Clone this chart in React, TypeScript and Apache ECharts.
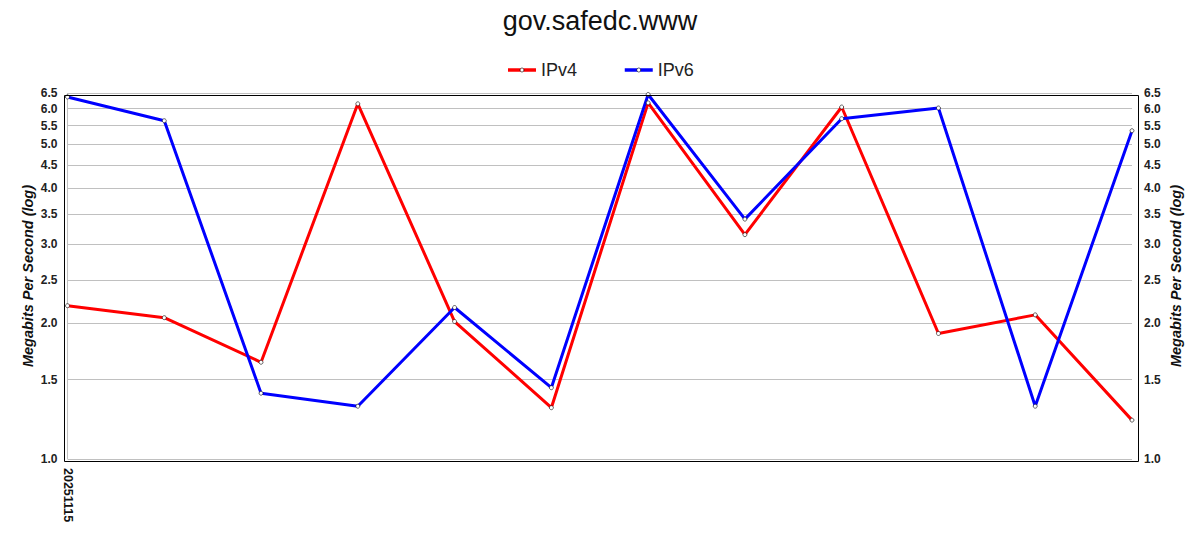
import React, { useEffect, useRef } from "react";
import * as echarts from "echarts";

const chartTitle = "gov.safedc.www";
const categories = ["20251115", "", "", "", "", "", "", "", "", "", "", ""];
const ipv4 = [2.19, 2.06, 1.64, 6.15, 2.02, 1.3, 6.18, 3.15, 6.05, 1.9, 2.09, 1.22];
const ipv6 = [6.37, 5.64, 1.4, 1.31, 2.17, 1.44, 6.45, 3.41, 5.7, 6.02, 1.31, 5.36];
const yTicks = [1.0, 1.5, 2.0, 2.5, 3.0, 3.5, 4.0, 4.5, 5.0, 5.5, 6.0, 6.5];
const yMin = 1.0;
const yMax = 6.5;
const yAxisName = "Megabits Per Second (log)";

const FONT = "'Liberation Sans', Arial, sans-serif";

export default function App() {
  const ref = useRef<HTMLDivElement>(null);
  useEffect(() => {
    document.body.style.margin = "0";
    if (!ref.current) return;
    const chart = echarts.init(ref.current, null, { renderer: "svg" });
    const logTicks = yTicks.map((v) => Math.log10(v));
    const fmt = (v: number) => Math.pow(10, v).toFixed(1);
    const yAxisBase = (pos: "left" | "right", margin: number, gap: number, split: boolean) => ({
      type: "value",
      position: pos,
      offset: 5,
      min: Math.log10(yMin),
      max: Math.log10(yMax),
      name: yAxisName,
      nameLocation: "middle",
      nameGap: gap,
      nameMoveOverlap: false,
      nameTextStyle: {
        fontFamily: FONT,
        fontSize: 14.5,
        fontWeight: "bold",
        fontStyle: "italic",
        color: "#111",
      },
      axisLine: { show: false },
      axisTick: { show: false, customValues: logTicks },
      axisLabel: {
        customValues: logTicks,
        formatter: fmt,
        margin,
        fontFamily: FONT,
        fontSize: 12,
        fontWeight: "bold",
        color: "#222",
      },
      splitLine: { show: split, lineStyle: { color: "#c0c0c0", width: 1 } },
    });
    const seriesBase = (name: string, data: number[], color: string) => ({
      name,
      type: "line",
      data: data.map((v) => Math.log10(v)),
      color,
      symbol: "circle",
      symbolSize: 4,
      showSymbol: true,
      lineStyle: { color, width: 3 },
      itemStyle: { color: "#fff", borderColor: "#000", borderWidth: 0.6 },
      emphasis: { disabled: true },
    });
    chart.setOption({
      animation: false,
      backgroundColor: "#fff",
      title: {
        text: chartTitle,
        left: "center",
        top: 2,
        textStyle: { fontFamily: FONT, fontSize: 27, fontWeight: "normal", color: "#111" },
      },
      legend: {
        data: ["IPv4", "IPv6"],
        left: "center",
        top: 56,
        itemWidth: 28,
        itemHeight: 5,
        itemGap: 46,
        lineStyle: { width: 3.5 },
        itemStyle: { borderWidth: 0.6, borderColor: "#000" },
        textStyle: { fontFamily: FONT, fontSize: 18, color: "#222" },
      },
      grid: { left: 67.5, right: 68, top: 93, bottom: 91, containLabel: false },
      graphic: [
        {
          type: "rect",
          left: 62,
          top: 93,
          shape: { x: 0, y: 0, width: 1074, height: 366 },
          style: { fill: "none", stroke: "#000", lineWidth: 1 },
          silent: true,
          z: 10,
        },
      ],
      xAxis: {
        type: "category",
        data: categories,
        boundaryGap: false,
        axisLine: { show: false },
        axisTick: { show: false },
        axisLabel: {
          interval: 0,
          rotate: -90,
          margin: 9,
          fontFamily: FONT,
          fontSize: 12.5,
          fontWeight: "bold",
          color: "#111",
        },
        splitLine: {
          show: true,
          interval: (index: number) => index === 0,
          lineStyle: { color: "#c0c0c0", width: 1 },
        },
      },
      yAxis: [yAxisBase("left", 5, 27, true), yAxisBase("right", 7, 31, false)],
      series: [seriesBase("IPv4", ipv4, "#ff0000"), seriesBase("IPv6", ipv6, "#0000ff")],
    });
    return () => chart.dispose();
  }, []);
  return <div ref={ref} style={{ width: 1200, height: 550 }} />;
}
